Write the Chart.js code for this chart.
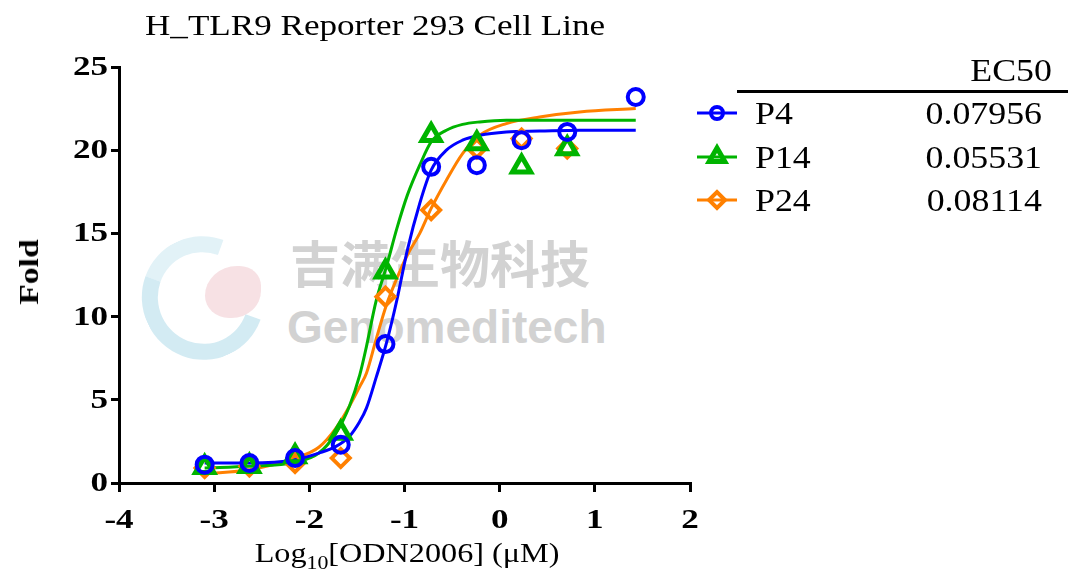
<!DOCTYPE html>
<html>
<head>
<meta charset="utf-8">
<script src="https://cdn.jsdelivr.net/npm/chart.js@4.4.0/dist/chart.umd.min.js"></script>
<style>
html, body { margin: 0; padding: 0; background: #fff; }
#wrap { position: relative; width: 1068px; height: 581px; overflow: hidden; font-family: "Liberation Serif", "Times New Roman", serif; }
#graphCanvas { position: absolute; left: 0; top: 0; }
.txt { position: absolute; white-space: nowrap; color: #000; line-height: 1; }
.wm { position: absolute; white-space: nowrap; color: #d2d2d2; line-height: 1; font-weight: bold; }
</style>
</head>
<body>
<div id="wrap">
  <!-- watermark, sits under the chart -->
  <div style="position:absolute;left:142px;top:236px;width:90px;height:92px;border:16px solid rgba(200,230,240,0.8);border-right-color:transparent;border-top-color:rgba(205,232,242,0.6);border-radius:50%;transform:rotate(-25deg);"></div>
  <div style="position:absolute;left:205px;top:266px;width:56px;height:52px;background:rgba(244,212,216,0.7);border-radius:60% 40% 55% 45%;"></div>
  <div class="wm" style="left:290px;top:236px;font-size:50px;font-family:'Noto Sans CJK SC';">吉满生物科技</div>
  <div class="wm" style="left:287px;top:304px;font-size:46px;font-family:'Liberation Sans';">Genomeditech</div>

  <canvas id="graphCanvas" width="1068" height="581"></canvas>

  <div class="txt" style="left:145px;top:10px;font-size:30px;transform:scaleX(1.17);transform-origin:left center;">H_TLR9 Reporter 293 Cell Line</div>
  <div class="txt" style="left:29px;top:272px;font-size:28px;font-weight:bold;transform:translate(-50%,-50%) rotate(-90deg) scaleX(1.2);">Fold</div>
  <div class="txt" style="left:407px;top:539px;font-size:28px;transform:translateX(-50%) scaleX(1.15);">Log<sub style="font-size:19px;vertical-align:-7px;line-height:0;">10</sub>[ODN2006] (μM)</div>

  <div class="txt" style="right:16px;top:54px;font-size:32px;transform:scaleX(1.12);transform-origin:right center;">EC50</div>
  <div style="position:absolute;left:737px;top:90px;width:331px;height:3px;background:#000;"></div>
  <div id="legendRows"></div>
</div>

<script>
// dose points, log10 µM
const doseLog = [-3.10, -2.63, -2.15, -1.67, -1.20, -0.72, -0.24, 0.23, 0.71, 1.43];

// measured fold values
const p4Fold  = [1.1, 1.2, 1.5, 2.3, 8.35, 19.0, 19.1, 20.6, 21.1, 23.2];
const p14Fold = [0.95, 1.0, 1.6, 3.0, 12.7, 20.9, 20.4, 19.0, 20.1];
const p24Fold = [0.9, 1.0, 1.2, 1.5, 11.2, 16.4, 20.1, 20.7, 20.1];

// fitted curves
const curveLog = [-3.10, -2.63, -2.15, -1.90, -1.72, -1.58, -1.47, -1.40, -1.30, -1.19, -1.08, -0.97, -0.84, -0.72, -0.56, -0.39, -0.21, 0.07, 0.42, 0.84, 1.43];
const p4Curve  = [1.2, 1.2, 1.4, 1.8, 2.2, 2.8, 3.7, 4.5, 6.3, 8.4, 11.0, 14.0, 16.8, 18.8, 20.0, 20.6, 20.9, 21.1, 21.15, 21.2, 21.2];
const p14Curve = [0.9, 1.0, 1.25, 1.8, 3.0, 4.6, 6.5, 8.2, 10.9, 13.0, 15.3, 17.3, 19.1, 20.5, 21.2, 21.55, 21.7, 21.8, 21.8, 21.8, 21.8];
const p24Curve = [0.55, 0.8, 1.5, 2.15, 3.3, 4.6, 5.8, 6.6, 8.6, 10.7, 12.3, 13.7, 15.0, 16.5, 18.2, 19.8, 20.9, 21.6, 22.0, 22.3, 22.5];

const seriesNames = ['P4', 'P14', 'P24'];
const ec50Values = ['0.07956', '0.05531', '0.08114'];

const xTicks = [-4, -3, -2, -1, 0, 1, 2];
const yTicks = [0, 5, 10, 15, 20, 25];

const BLUE = '#0000ff';
const GREEN = '#00b400';
const ORANGE = '#ff8000';

function pts(xs, ys) {
    return ys.map((y, i) => ({ x: xs[i], y: y }));
}

const styles = [
    { color: BLUE, pointStyle: 'circle', radius: 8, bw: 4, legR: 6 },
    { color: GREEN, pointStyle: 'triangle', radius: 10.5, bw: 5, legR: 9 },
    { color: ORANGE, pointStyle: 'rectRot', radius: 9, bw: 4, legR: 8 }
];
const foldSets = [p4Fold, p14Fold, p24Fold];
const curveSets = [p4Curve, p14Curve, p24Curve];

const datasets = [];
// markers first so they're drawn on top; hollow, lines show through
foldSets.forEach((ys, i) => {
    const s = styles[i];
    datasets.push({
        label: seriesNames[i],
        data: pts(doseLog, ys),
        showLine: false,
        pointStyle: s.pointStyle,
        pointRadius: s.radius,
        pointBorderWidth: s.bw,
        borderColor: s.color,
        backgroundColor: 'rgba(0,0,0,0)',
        pointBackgroundColor: 'rgba(0,0,0,0)',
        pointBorderColor: s.color
    });
});
curveSets.forEach((ys, i) => {
    datasets.push({
        type: 'line',
        label: seriesNames[i] + ' fit',
        data: pts(curveLog, ys),
        showLine: true,
        borderColor: styles[i].color,
        borderWidth: 3,
        pointRadius: 0,
        fill: false,
        cubicInterpolationMode: 'monotone'
    });
});

// tick labels + legend markers (Times text is drawn a bit wider in the original)
const drawExtras = {
    id: 'drawExtras',
    afterDraw(chart) {
        const c = chart.ctx;
        const xs = chart.scales.x, ys = chart.scales.y;
        c.save();
        c.fillStyle = '#000';
        c.font = 'bold 27px "Liberation Serif"';
        c.textBaseline = 'middle';
        xs.ticks.forEach((t, i) => {
            c.save();
            c.translate(xs.getPixelForTick(i), 521);
            c.scale(1.3, 1);
            c.textAlign = 'center';
            c.fillText(String(t.value), 0, 0);
            c.restore();
        });
        ys.ticks.forEach((t, i) => {
            c.save();
            c.translate(108, ys.getPixelForTick(i) + 1);
            c.scale(1.3, 1);
            c.textAlign = 'right';
            c.fillText(String(t.value), 0, 0);
            c.restore();
        });

        const rowY = [113, 157, 200];
        styles.forEach((s, i) => {
            c.strokeStyle = s.color;
            c.lineWidth = 3;
            c.beginPath();
            c.moveTo(697, rowY[i]);
            c.lineTo(737, rowY[i]);
            c.stroke();
            c.fillStyle = 'rgba(0,0,0,0)';
            c.lineWidth = s.bw;
            Chart.helpers.drawPoint(c, { pointStyle: s.pointStyle, radius: s.legR, borderWidth: s.bw, rotation: 0 }, 717, rowY[i]);
        });
        c.restore();
    }
};

const ctx = document.getElementById('graphCanvas').getContext('2d');
const chart = new Chart(ctx, {
    type: 'scatter',
    data: { datasets: datasets },
    options: {
        responsive: false,
        animation: false,
        devicePixelRatio: 1,
        layout: { padding: { left: 0, right: 378, top: 67, bottom: 0 } },
        plugins: { legend: { display: false }, tooltip: { enabled: false } },
        scales: {
            x: {
                type: 'linear', min: -4, max: 2,
                afterBuildTicks: s => { s.ticks = xTicks.map(v => ({ value: v })); },
                afterFit: s => { s.height = 98; },
                ticks: { display: false },
                grid: { drawOnChartArea: false, drawTicks: true, tickLength: 9, lineWidth: 3, color: '#000' },
                border: { display: true, width: 3, color: '#000' }
            },
            y: {
                type: 'linear', min: 0, max: 25,
                afterBuildTicks: s => { s.ticks = yTicks.map(v => ({ value: v })); },
                afterFit: s => { s.width = 119; },
                ticks: { display: false },
                grid: { drawOnChartArea: false, drawTicks: true, tickLength: 8, lineWidth: 3, color: '#000' },
                border: { display: true, width: 3, color: '#000' }
            }
        }
    },
    plugins: [drawExtras]
});

// legend table text
const rowsEl = document.getElementById('legendRows');
const rowTop = [97, 141, 184];
seriesNames.forEach((name, i) => {
    const lab = document.createElement('div');
    lab.className = 'txt';
    lab.style.cssText = `left:755px;top:${rowTop[i]}px;font-size:32px;transform:scaleX(1.12);transform-origin:left center;`;
    lab.textContent = name;
    rowsEl.appendChild(lab);
    const val = document.createElement('div');
    val.className = 'txt';
    val.style.cssText = `right:26px;top:${rowTop[i]}px;font-size:32px;transform:scaleX(1.12);transform-origin:right center;`;
    val.textContent = ec50Values[i];
    rowsEl.appendChild(val);
});
</script>
</body>
</html>
